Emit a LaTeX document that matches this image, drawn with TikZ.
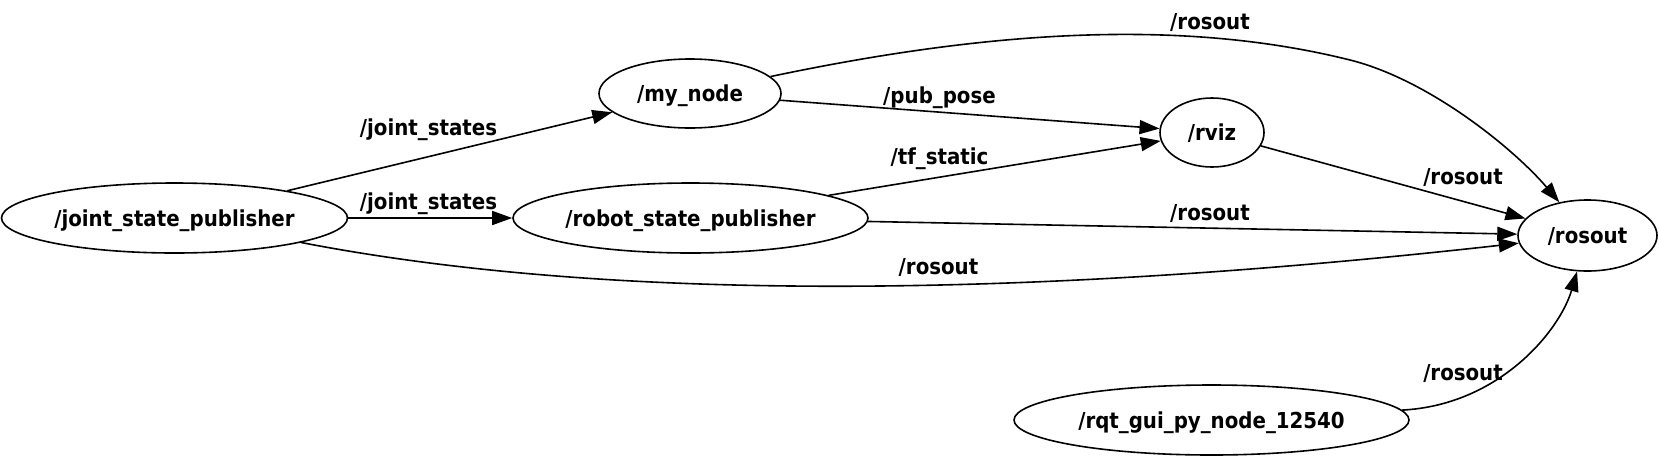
\documentclass[tikz,border=0pt]{standalone}
\usepackage{fontspec}
\setmainfont{DejaVu Sans Condensed}
\usetikzlibrary{arrows.meta, shapes.geometric}

\begin{document}
\begin{tikzpicture}[x=1pt, y=-1pt, font=\fontsize{22}{24}\selectfont\bfseries,
    rosnode/.style={draw, ellipse, line width=1.6pt, inner sep=0pt,
                    text height=20.7pt, text depth=4.5pt},
    topic/.style={-{Triangle[length=20pt, width=14pt]}, line width=1.6pt}]
  \useasboundingbox (0,0) rectangle (1659,456);
  % ROS nodes
  \node[rosnode, minimum width=346pt, minimum height=70pt] (jsp) at (174.5,218) {/joint\_state\_publisher};
  \node[rosnode, minimum width=182pt, minimum height=69pt] (mynode) at (690,93.5) {/my\_node};
  \node[rosnode, minimum width=355pt, minimum height=70pt] (rsp) at (690.5,218) {/robot\_state\_publisher};
  \node[rosnode, minimum width=104pt, minimum height=69pt] (rviz) at (1212,132.5) {/rviz};
  \node[rosnode, minimum width=139pt, minimum height=71pt] (rosout) at (1587.5,235.5) {/rosout};
  \node[rosnode, minimum width=395pt, minimum height=70pt] (rqt) at (1211.5,420) {/rqt\_gui\_py\_node\_12540};
  \coordinate (bend) at (1350,60);
  % Topics
  \draw[topic] (jsp) -- (mynode);
  \draw[topic] (jsp) -- (rsp);
  \draw[topic] (jsp) .. controls (650,310) and (1100,290) .. (rosout);
  \draw[topic] (mynode) -- (rviz);
  \draw[topic] (rsp) -- (rviz);
  \draw[topic] (mynode) .. controls (968,35) and (1170,15) .. (bend)
        .. controls (1430,80) and (1515,150) .. (rosout);
  \draw[topic] (rviz) -- (rosout);
  \draw[topic] (rsp) -- (rosout);
  \draw[topic] (rqt) .. controls (1500,405) and (1560,330) .. (rosout);
  % Topic labels
  \node (ljs1) at (428.5,130) {/joint\_states};
  \node (ljs2) at (428.5,203.5) {/joint\_states};
  \node (lout1) at (938.5,267) {/rosout};
  \node (lpose) at (939.5,97.5) {/pub\_pose};
  \node (ltf) at (939.5,159) {/tf\_static};
  \node (lout2) at (1210,22.5) {/rosout};
  \node (lout3) at (1463,177) {/rosout};
  \node (lout4) at (1210,213) {/rosout};
  \node (lout5) at (1463,373.5) {/rosout};
\end{tikzpicture}
\end{document}
